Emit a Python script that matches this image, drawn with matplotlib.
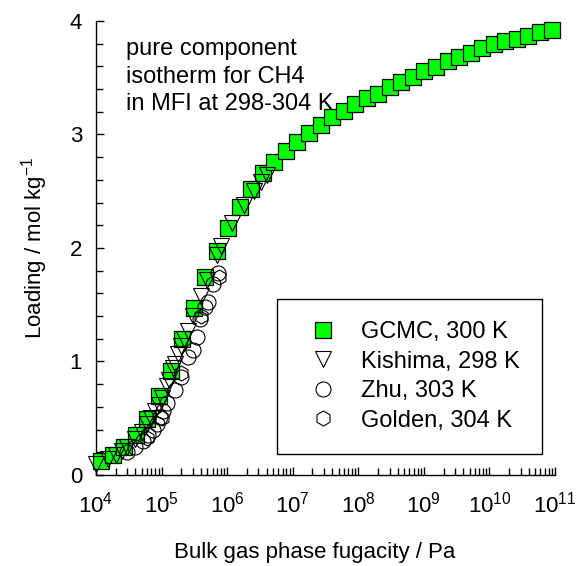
import numpy as np
import matplotlib
matplotlib.use('Agg')
import matplotlib.pyplot as plt

plt.rcParams['font.family'] = ['Liberation Sans', 'DejaVu Sans']
plt.rcParams['mathtext.default'] = 'regular'

# GCMC, 300 K
gcmc_f = [1.20e4, 1.80e4, 2.70e4, 4.05e4, 6.08e4, 9.11e4, 1.37e5, 2.05e5, 3.08e5, 4.61e5,
          6.92e5, 1.04e6, 1.56e6, 2.34e6, 3.50e6, 5.26e6, 7.88e6, 1.18e7, 1.77e7, 2.66e7,
          3.99e7, 5.99e7, 8.98e7, 1.35e8, 2.02e8, 3.03e8, 4.55e8, 6.82e8, 1.02e9, 1.53e9,
          2.30e9, 3.45e9, 5.18e9, 7.77e9, 1.17e10, 1.75e10, 2.62e10, 3.93e10, 5.90e10, 8.85e10]
gcmc_q = [0.12, 0.18, 0.25, 0.35, 0.49, 0.70, 0.92, 1.20, 1.47, 1.74,
          1.97, 2.18, 2.36, 2.52, 2.66, 2.76, 2.85, 2.93, 3.01, 3.08,
          3.15, 3.21, 3.27, 3.32, 3.36, 3.42, 3.46, 3.51, 3.56, 3.59,
          3.65, 3.68, 3.72, 3.76, 3.80, 3.82, 3.84, 3.87, 3.90, 3.92]

# Kishima, 298 K
kish_f = [1.0e4, 1.5e4, 2.0e4, 2.5e4, 3.0e4, 4.0e4, 5.0e4, 6.0e4, 7.0e4, 8.0e4,
          9.0e4, 1.0e5, 1.2e5, 1.3e5, 1.5e5, 1.6e5, 1.8e5, 2.0e5, 2.2e5, 2.5e5,
          3.0e5, 4.0e5, 5.0e5, 7.0e5, 8.0e5, 1.2e6, 1.8e6, 2.6e6, 3.3e6, 4.0e6]
kish_q = [0.10, 0.14, 0.18, 0.21, 0.25, 0.32, 0.38, 0.45, 0.50, 0.56,
          0.62, 0.68, 0.78, 0.84, 0.94, 0.98, 1.07, 1.14, 1.20, 1.27,
          1.40, 1.58, 1.72, 1.94, 2.02, 2.22, 2.38, 2.50, 2.58, 2.64]

# Zhu, 303 K
zhu_f = [3.0e4, 3.9e4, 5.2e4, 6.2e4, 7.4e4, 8.5e4, 9.5e4, 1.05e5, 1.2e5, 1.6e5,
         2.0e5, 2.5e5, 3.0e5, 3.5e5, 3.9e5, 4.6e5, 5.1e5, 6.0e5, 7.2e5]
zhu_q = [0.20, 0.25, 0.30, 0.35, 0.40, 0.45, 0.51, 0.56, 0.63, 0.75,
         0.86, 1.04, 1.10, 1.22, 1.37, 1.48, 1.52, 1.68, 1.78]

# Golden, 304 K
gold_f = [6.0e4, 1.0e5, 2.0e5, 4.0e5, 7.5e5]
gold_q = [0.33, 0.50, 0.90, 1.40, 1.74]

fig = plt.figure(figsize=(5.76, 5.66), dpi=100)
ax = fig.add_axes([0.1667, 0.1608, 0.7969, 0.8022])

ax.plot(gcmc_f, gcmc_q, 's', ms=11.5, mfc='#00ff00', mec='black', mew=0.9,
        clip_on=False, label='GCMC, 300 K', zorder=3)
ax.plot(kish_f, kish_q, 'v', ms=11.5, mfc='none', mec='black', mew=0.8,
        clip_on=False, label='Kishima, 298 K', zorder=4)
ax.plot(zhu_f, zhu_q, 'o', ms=10.8, mfc='none', mec='black', mew=0.8,
        clip_on=False, label='Zhu, 303 K', zorder=4)
ax.plot(gold_f, gold_q, 'h', ms=10.8, mfc='none', mec='black', mew=0.8,
        clip_on=False, label='Golden, 304 K', zorder=4)

ax.set_xscale('log')
ax.set_xlim(1e4, 1e11)
ax.set_ylim(0, 4)
ax.set_xticks([10.0**k for k in range(4, 12)])
ax.set_yticks([0, 1, 2, 3, 4])
ax.set_yticks(np.arange(0, 4.01, 0.2), minor=True)
ax.xaxis.set_minor_locator(matplotlib.ticker.LogLocator(base=10, subs=range(2, 10), numticks=20))
ax.xaxis.set_minor_formatter(matplotlib.ticker.NullFormatter())

for s in ['top', 'right']:
    ax.spines[s].set_visible(False)
for s in ['left', 'bottom']:
    ax.spines[s].set_linewidth(1.0)

ax.tick_params(which='major', direction='in', length=6, width=1.0, labelsize=16)
ax.tick_params(axis='y', which='major', pad=10)
ax.tick_params(axis='x', which='major', pad=12)
ax.tick_params(which='minor', direction='in', length=5, width=1.0)

ax.set_xlabel('Bulk gas phase fugacity / Pa', fontsize=16)
ax.xaxis.set_label_coords(0.477, -0.148)
ax.set_ylabel('Loading / mol kg$^{-1}$', fontsize=16, labelpad=14)

ax.text(0.065, 0.962, 'pure component\nisotherm for CH4\nin MFI at 298-304 K',
        transform=ax.transAxes, fontsize=17, va='top', ha='left', linespacing=1.32)

leg = ax.legend(loc='lower right', bbox_to_anchor=(0.972, 0.046), fontsize=17,
                frameon=True, fancybox=False, edgecolor='black', framealpha=1,
                borderpad=0.95, labelspacing=0.32, handletextpad=0.6, borderaxespad=0)
leg.get_frame().set_linewidth(1.0)

fig.savefig('out.png', dpi=100)
